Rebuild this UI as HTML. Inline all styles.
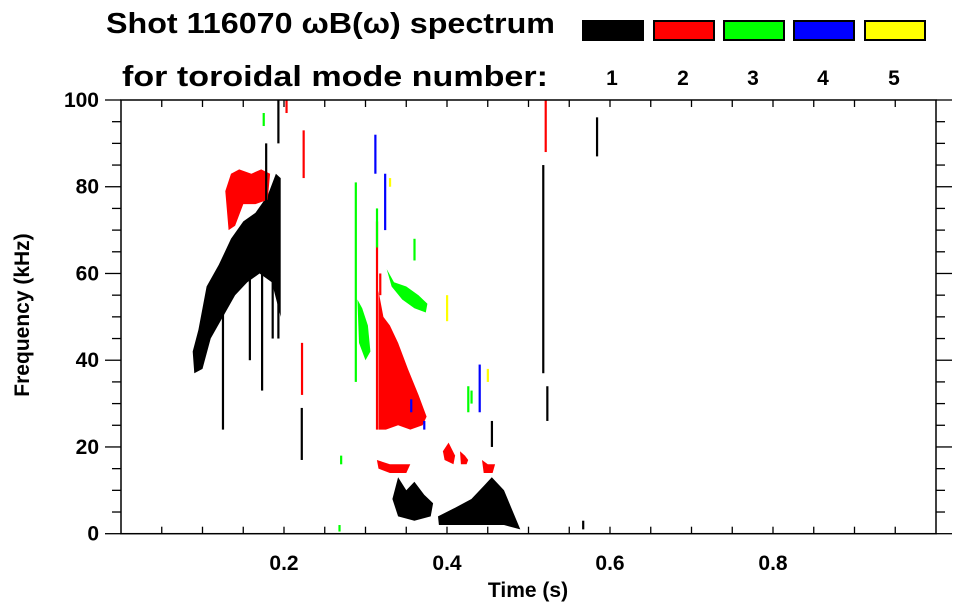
<!DOCTYPE html>
<html><head><meta charset="utf-8"><style>
body{margin:0;background:#fff;}
svg{display:block;font-family:"Liberation Sans",Arial,sans-serif;font-weight:bold;}
</style></head><body>
<svg id="chart" width="963" height="615" viewBox="0 0 963 615">
<text x="106" y="33" font-size="29" textLength="449" lengthAdjust="spacingAndGlyphs">Shot 116070 ωB(ω) spectrum</text>
<text x="122" y="86" font-size="29" textLength="426" lengthAdjust="spacingAndGlyphs">for toroidal mode number:</text>
<g id="legend"></g>
<g id="marks"></g>
<g id="axes"></g>
<text transform="translate(29,315) rotate(-90)" text-anchor="middle" font-size="21">Frequency (kHz)</text>
<text x="528" y="597" text-anchor="middle" font-size="21">Time (s)</text>
</svg>
<script>
const modeNames = ["1","2","3","4","5"];
const modeColors = ["#000000","#ff0000","#00ff00","#0000ff","#ffff00"];
const xTickValues = [0.2,0.4,0.6,0.8];
const xTickLabels = ["0.2","0.4","0.6","0.8"];
const yTickValues = [0,20,40,60,80,100];
const yTickLabels = ["0","20","40","60","80","100"];
// blobs: mode (1-5), times (s), freqs (kHz) as polygon vertices
const blobModes = [1,2,2,3,3,1,1,2,2,2,2];
const blobTimes = [
 [0.088,0.095,0.105,0.12,0.135,0.15,0.165,0.18,0.19,0.196,0.196,0.185,0.17,0.155,0.14,0.125,0.11,0.1,0.09],
 [0.128,0.135,0.145,0.16,0.172,0.183,0.18,0.165,0.15,0.14,0.132],
 [0.316,0.322,0.33,0.34,0.352,0.365,0.375,0.37,0.355,0.34,0.325,0.316],
 [0.29,0.296,0.303,0.306,0.3,0.292],
 [0.326,0.335,0.35,0.365,0.376,0.374,0.36,0.345,0.332],
 [0.333,0.34,0.35,0.36,0.372,0.383,0.38,0.36,0.34],
 [0.389,0.41,0.43,0.445,0.455,0.47,0.49,0.47,0.44,0.41,0.39],
 [0.395,0.402,0.41,0.408,0.397],
 [0.443,0.45,0.459,0.456,0.445],
 [0.416,0.422,0.426,0.424,0.417],
 [0.314,0.33,0.355,0.35,0.33,0.316]
];
const blobFreqs = [
 [42,47,57,62,68,72,74,78,83,82,50,58,60,58,55,50,45,38,37],
 [79,83,84,83,84,83,77,76,76,71,70],
 [56,50,48,44,38,32,27,25,24,25,24,24],
 [54,52,48,42,40,44],
 [61,58,57,55,53,51,52,54,57],
 [8,13,10,12,9,7,4,3,4],
 [4,6,8,11,13,10,1,2,2,2,2],
 [19,21,18,16,17],
 [17,16,16,14,14],
 [19,18,17,16,16],
 [17,16,16,14,14,15]
];
// thin streaks: time, low freq, high freq, mode
const streakT =    [0.125,0.173,0.178,0.186,0.193,0.193,0.158,0.203,0.224,0.222,0.175,0.314,0.288,0.314,0.426,0.312,0.324,0.44,0.356,0.372,0.4,0.45,0.33,0.2217,0.455,0.518,0.521,0.523,0.584,0.567,0.318,0.36,0.43,0.27,0.268];
const streakF0 =   [24,33,70,45,45,90,40,97,82,32,94,24,35,66,28,83,70,28,28,24,49,35,80,17,20,37,88,26,87,1,55,63,30,16,0.5];
const streakF1 =   [60,75,90,80,78,100,62,100,93,44,97,72,81,75,34,92,83,39,31,26,55,38,82,29,26,85,100,34,96,3,60,68,33,18,2];
const streakMode = [1,1,1,1,1,1,1,2,2,2,3,2,3,3,3,4,4,4,4,4,5,5,5,1,1,1,2,1,1,1,2,3,3,3,3];

const NS="http://www.w3.org/2000/svg";
const X0=121,X1=936,Y0=533.7,Y1=100;
const xs=t=>X0+(X1-X0)*t;
const ys=f=>Y0-(Y0-Y1)*f/100;
function mk(tag,attrs,parent){const e=document.createElementNS(NS,tag);for(const k in attrs)e.setAttribute(k,attrs[k]);parent.appendChild(e);return e;}
const marks=document.getElementById('marks');
blobModes.forEach((m,i)=>{
  const pts=blobTimes[i].map((t,j)=>xs(t).toFixed(1)+","+ys(blobFreqs[i][j]).toFixed(1)).join(" ");
  const p=mk('polygon',{points:pts,fill:modeColors[m-1]},marks);
  
  
});
streakT.forEach((t,i)=>{
  const m=streakMode[i];
  const r=mk('rect',{x:xs(t)-1,y:ys(streakF1[i]),width:2.2,height:ys(streakF0[i])-ys(streakF1[i]),fill:modeColors[m-1]},marks);
  
  
});
const axes=document.getElementById('axes');
const frame=mk('rect',{x:X0,y:Y1,width:X1-X0,height:Y0-Y1,fill:'none',stroke:'#000','stroke-width':1.5},axes);


for(let v=0;v<=100.01;v+=5){
  const y=ys(v),major=(v%20===0),len=major?16:9;
  mk('line',{x1:X0-len,x2:X0,y1:y,y2:y,stroke:'#000','stroke-width':1.3},axes);
  mk('line',{x1:X1,x2:X1+len,y1:y,y2:y,stroke:'#000','stroke-width':1.3},axes);
}
for(let t=0.05;t<1;t+=0.05){
  const x=xs(t);
  mk('line',{x1:x,x2:x,y1:Y0,y2:Y0-7,stroke:'#000','stroke-width':1.3},axes);
  mk('line',{x1:x,x2:x,y1:Y1,y2:Y1+7,stroke:'#000','stroke-width':1.3},axes);
}
yTickValues.forEach((v,i)=>{
  const tx=mk('text',{x:99,y:ys(v)+7,'text-anchor':'end','font-size':21},axes);
  tx.textContent=yTickLabels[i];
  
  
});
xTickValues.forEach((v,i)=>{
  const tx=mk('text',{x:xs(v),y:570,'text-anchor':'middle','font-size':21},axes);
  tx.textContent=xTickLabels[i];
  
  
});
const legend=document.getElementById('legend');
const legX=[582,653,723,793,864];
modeNames.forEach((n,i)=>{
  const r=mk('rect',{x:legX[i]+1,y:21,width:60,height:19,fill:modeColors[i],stroke:'#000','stroke-width':2},legend);
  
  
  const tx=mk('text',{x:legX[i]+30,y:85,'text-anchor':'middle','font-size':21},legend);
  tx.textContent=n;
  
  
});
</script>
</body></html>
